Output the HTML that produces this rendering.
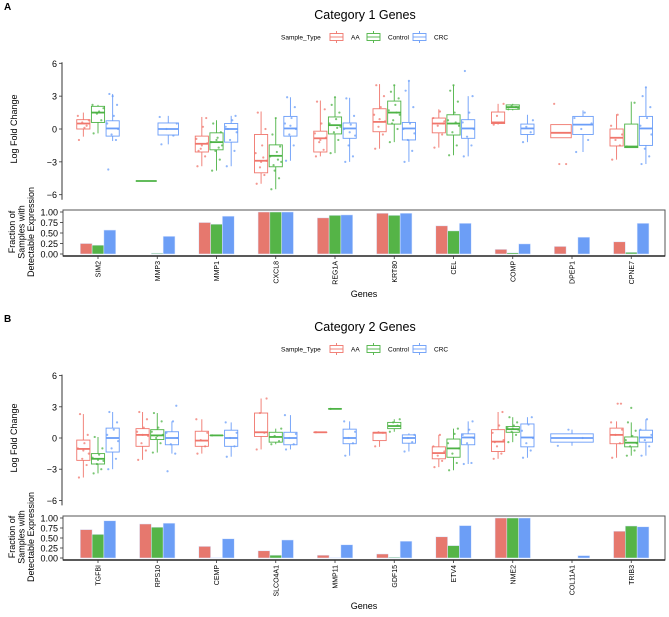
<!DOCTYPE html>
<html><head><meta charset="utf-8"><style>
body{margin:0;background:#fff;}
svg{display:block;font-family:"Liberation Sans",sans-serif;}
</style></head><body>
<svg id="chart" width="669" height="617" viewBox="0 0 669 617" xmlns="http://www.w3.org/2000/svg"></svg>
<script>
// ---------- data ----------
const genesA = ["SIM2","MMP3","MMP1","CXCL8","REG1A","KRT80","CEL","COMP","DPEP1","CPNE7"];
const genesB = ["TGFBI","RPS10","CEMP","SLCO4A1","MMP11","GDF15","ETV4","NME2","COL11A1","TRIB3"];
const groups = ["AA","Control","CRC"];
// box stats: [lowerWhisker, q1, median, q3, upperWhisker]
const boxA_AA = [[-0.7,0,0.5,0.85,1.5],null,[-3.4,-2.1,-1.35,-0.65,1.1],[-5.0,-4.0,-2.9,-0.5,1.6],[-2.5,-2.1,-0.85,-0.2,2.6],[-1.8,-0.25,0.65,1.85,4.1],[-1.7,-0.35,0.5,1.0,1.8],[0.4,0.5,0.6,1.55,2.3],[-0.8,-0.8,-0.35,0.4,0.4],[-2.8,-1.55,-0.8,0,1.35]];
const boxA_Control = [[-0.4,0.6,1.5,2.07,2.2],[-4.75,-4.75,-4.75,-4.75,-4.75],[-3.8,-1.9,-1.2,-0.35,0.8],[-5.5,-3.45,-2.45,-1.45,1.0],[-2.2,-0.45,0.35,1.1,2.9],[-1.2,0.45,1.5,2.55,4.0],[-2.4,-0.55,0.5,1.3,4.0],[1.7,1.8,2.0,2.2,2.3],null,[-1.7,-1.7,-1.6,0.45,2.5]];
const boxA_CRC = [[-1.1,-0.65,0.05,0.75,3.2],[-1.4,-0.55,0,0.55,1.2],[-3.4,-1.2,0,0.5,1.2],[-2.9,-0.65,0.05,1.15,2.9],[-3.0,-0.85,0.05,0.55,2.85],[-3.0,-1.0,0.05,0.6,4.4],[-2.5,-0.85,0.05,0.85,3.0],[-1.2,-0.5,0.05,0.45,1.3],[-2.1,-0.5,0.4,1.15,1.7],[-3.2,-1.5,0.05,1.15,3.8]];
const boxB_AA = [[-3.8,-2.15,-1.05,-0.2,2.3],[-2.1,-0.8,0.3,0.9,2.5],[-1.5,-0.8,-0.25,0.65,1.8],[-1.1,0.15,0.55,2.4,3.8],[0.55,0.55,0.55,0.55,0.55],[-0.85,-0.25,0.5,0.55,0.55],[-2.8,-2.0,-1.45,-0.85,0.3],[-2.0,-1.3,-0.35,0.8,2.5],null,[-1.9,-0.55,0.3,0.95,1.6]];
const boxB_Control = [[-3.4,-2.5,-2.0,-1.5,0.1],[-1.4,-0.15,0.25,0.8,2.4],[0.25,0.25,0.25,0.25,0.25],[-0.6,-0.4,0.1,0.55,0.9],[2.8,2.8,2.8,2.8,2.8],[0.6,0.9,1.15,1.5,1.8],[-3.1,-1.85,-1.0,-0.1,0.9],[-0.4,0.55,0.85,1.1,2.0],null,[-1.7,-0.85,-0.45,0.1,1.5]];
const boxB_CRC = [[-3.0,-1.35,0,0.95,2.5],[-1.5,-0.65,0,0.6,1.6],[-1.8,-0.8,0,0.75,1.5],[-1.1,-0.65,0,0.55,2.2],[-1.7,-0.55,0,0.85,1.6],[-1.3,-0.5,0,0.3,0.45],[-2.5,-0.65,0.05,0.4,1.6],[-1.9,-0.85,0.05,1.35,2.0],[-0.75,-0.4,0,0.4,0.8],[-1.7,-0.4,0.05,0.75,1.8]];
// jittered sample points
const ptsA_AA = [[-1,0.3,0.6,0.8,1.2,0.1],[],[-3.4,-2.5,-1.8,-1.3,-0.9,0.2,1.0,-2.0,-1.5],[-5,-4.2,-3.5,-2.9,-2.2,-1.5,0,1.5,-3.0,-2.6],[-2.5,-1.9,-1.2,-0.8,-0.4,0.5,1.8,2.5,-1.0],[-1.8,-0.5,0.2,0.7,1.3,2.0,3.0,4.0,0.9],[-1.7,-0.5,0.3,0.7,1.0,1.6,0.5],[0.4,0.6,1.2,2.3],[2.3,-3.2,-3.2],[-2.8,-1.5,-1,-0.5,0.3,1.3]];
const ptsA_Control = [[-0.4,0.8,1.4,1.9,2.2,1.6],[],[-3.8,-2.8,-2,-1.5,-1.2,-0.8,-0.3,0.5,-1.0,-1.7],[-5.5,-4.5,-3.8,-3,-2.5,-2.1,-1.6,-0.5,1,-2.8,-3.3],[-2.2,-1,-0.3,0.2,0.5,0.9,1.5,2.2,2.9,0.1],[-1.2,0,0.8,1.3,1.7,2.2,2.8,3.4,4,1.5,0.5],[-2.4,-1.5,-0.3,0.3,0.8,1.5,2.5,3.5,4,0.6],[1.8,2,2.1,1.9],[],[-1.6,2.4]];
const ptsA_CRC = [[-3.7,-1,-0.5,0,0.5,1.2,2.2,3.2,3],[-1.4,-0.6,0,0.5,1.1],[-3.4,-2,-1,-0.3,0.2,0.8,1.2,0],[-2.9,-1.5,-0.5,0,0.5,1,2,2.9,0.3],[-3,-2.5,-1.5,-0.6,0,0.4,1.2,2.8,-0.3],[-3,-2,-1,-0.4,0,0.5,2,3.5,4.4],[-2.5,-1.5,-0.7,0,0.6,1.5,3,5.3],[-1.2,-0.3,0.2,0.8],[-2.1,-1,0,0.5,1,1.5],[-3.2,-2.5,-1.8,-0.5,0.3,1,2,3,3.8]];
const ptsB_AA = [[-3.8,-2.6,-2,-1.5,-1,-0.5,0.3,2.3,-1.2],[-2.1,-1.2,-0.5,0.2,0.6,1,1.8,2.5,0.3],[-1.5,-0.8,-0.2,0.5,1.8],[-1.1,0.5,2.4,3.8],[0.55],[-0.8,0.5,0.55],[-2.8,-2.2,-1.7,-1.3,-0.8,0.3],[-2,-1.5,-0.8,-0.2,0.5,1.2,2.5,-0.4],[],[-1.9,-0.5,0.3,0.8,1.5,3.3,3.3]];
const ptsB_Control = [[-3.4,-3,-2.5,-2.2,-1.9,-1.6,-1,0.1,-2.1],[-1.4,-0.5,0,0.3,0.6,1,1.6,2.4,0.2],[0.25],[-0.6,-0.3,0.2,0.9],[2.8],[0.6,1.2,1.5,1.8],[-3.1,-2.4,-1.5,-1,-0.5,0.4,0.9],[-0.4,0.3,0.6,0.8,1,1.2,1.5,2,0.9],[],[-1.7,-1.2,-0.8,-0.5,-0.2,0.2,0.7,1.5,2.9]];
const ptsB_CRC = [[-3,-2,-1,-0.3,0.3,0.8,1.5,2.5],[-3.2,-1.5,-0.6,0,0.5,1.6,3.1],[-1.8,-0.8,0,0.5,1.5],[-1.1,-0.6,0,0.4,2.2],[-1.7,-0.5,0,0.6,1.6],[-1.3,-0.4,0,0.3],[-2.5,-2.4,-0.5,0,0.3,0.8,1.6],[-1.9,-1.2,-0.5,0,0.7,1.3,2],[-0.75,0,0.8],[-1.7,-0.8,-0.2,0.3,0.8,1.8]];
// fraction of samples with detectable expression
const fracA_AA = [0.25,0,0.75,1,0.86,0.97,0.67,0.11,0.18,0.29];
const fracA_Control = [0.21,0.02,0.71,1,0.92,0.92,0.55,0.03,0,0.04];
const fracA_CRC = [0.57,0.42,0.90,1,0.93,0.97,0.73,0.24,0.40,0.73];
const fracB_AA = [0.71,0.85,0.29,0.18,0.07,0.10,0.53,1,0,0.67];
const fracB_Control = [0.59,0.77,0.01,0.07,0.01,0.02,0.31,1,0,0.80];
const fracB_CRC = [0.93,0.87,0.48,0.45,0.33,0.42,0.81,1,0.06,0.78];
const yTicks = [6,3,0,-3,-6];
const yTickLabels = ["6","3","0","\u22123","\u22126"];
const fracTicks = [1,0.75,0.5,0.25,0];
const fracTickLabels = ["1.00","0.75","0.50","0.25","0.00"];

// ---------- drawing ----------
const colors = ["#F0766C","#4DB345","#6A9DF8"];
const barColors = ["#E6786E","#55B447","#6C9EF6"];
const NS = "http://www.w3.org/2000/svg";
const svg = document.getElementById("chart");
function mk(tag, attrs, parent){const e=document.createElementNS(NS,tag);for(const k in attrs)e.setAttribute(k,attrs[k]);(parent||svg).appendChild(e);return e;}
function txt(s, attrs, parent){const e=mk("text",attrs,parent);e.textContent=s;return e;}
const jit = [-4,3,-1,5,-5,1,4,-3,0,2,-2,5,-4];

function panel(cfg){
  const g = mk("g",{});
  
  
  const xGene = i => 98 + i*59.25;
  const yVal = v => cfg.zeroY - cfg.unit*v;
  const yBar = f => cfg.barZero - cfg.barUnit*f;
  // panel letter and title
  const L = txt(cfg.letter,{x:4,y:cfg.top+10,"font-size":10,"font-weight":"bold"},g);
  
  
  const T = txt(cfg.title,{x:365,y:cfg.top+19,"font-size":12.5,"text-anchor":"middle"},g);
  
  
  // legend
  const lg = mk("g",{},g);
  
  
  const ly = cfg.top+37;
  txt("Sample_Type",{x:281,y:ly+2.5,"font-size":6.5},lg);
  const lx=[330,367,413], lt=["AA","Control","CRC"];
  for(let k=0;k<3;k++){
    const e = mk("g",{},lg);
    
    
    mk("rect",{x:lx[k],y:ly-3.5,width:13,height:7,fill:"none",stroke:colors[k],"stroke-width":0.9},e);
    mk("line",{x1:lx[k],x2:lx[k]+13,y1:ly,y2:ly,stroke:colors[k],"stroke-width":0.9},e);
    mk("line",{x1:lx[k]+6.5,x2:lx[k]+6.5,y1:ly-6,y2:ly-3.5,stroke:colors[k],"stroke-width":0.9},e);
    mk("line",{x1:lx[k]+6.5,x2:lx[k]+6.5,y1:ly+3.5,y2:ly+6,stroke:colors[k],"stroke-width":0.9},e);
    txt(lt[k],{x:lx[k]+21,y:ly+2.5,"font-size":6.5},e);
  }
  // y axis (top)
  const ax = mk("g",{},g);
  
  
  mk("line",{x1:62,x2:62,y1:yVal(6)-1,y2:yVal(-6)+5,stroke:"#333","stroke-width":1},ax);
  yTicks.forEach((t,i)=>{
    mk("line",{x1:59,x2:62,y1:yVal(t),y2:yVal(t),stroke:"#333","stroke-width":0.8},ax);
    txt(yTickLabels[i],{x:57,y:yVal(t)+3.5,"font-size":9,"text-anchor":"end"},ax);
  });
  const yl = txt("Log Fold Change",{x:0,y:0,"font-size":9,"text-anchor":"middle",transform:`translate(17,${yVal(0)}) rotate(-90)`},g);
  
  
  // boxplots
  const boxSets=[cfg.box[0],cfg.box[1],cfg.box[2]];
  const ptSets=[cfg.pts[0],cfg.pts[1],cfg.pts[2]];
  const dodge = 44;
  cfg.genes.forEach((gn,i)=>{
    const present=[0,1,2].filter(k=>boxSets[k][i]);
    const n=present.length, slot=dodge/n;
    present.forEach((k,j)=>{
      const s=boxSets[k][i];
      const cx = xGene(i) - dodge/2 + slot*(j+0.5);
      const w = slot-1.5;
      const bg = mk("g",{},g);
      
      
      const c=colors[k];
      mk("line",{x1:cx,x2:cx,y1:yVal(s[4]),y2:yVal(s[3]),stroke:c,"stroke-width":0.9},bg);
      mk("line",{x1:cx,x2:cx,y1:yVal(s[1]),y2:yVal(s[0]),stroke:c,"stroke-width":0.9},bg);
      mk("rect",{x:cx-w/2,y:yVal(s[3]),width:w,height:Math.max(0.01,yVal(s[1])-yVal(s[3])),fill:"#fff","fill-opacity":0.3,stroke:c,"stroke-width":0.9},bg);
      mk("line",{x1:cx-w/2,x2:cx+w/2,y1:yVal(s[2]),y2:yVal(s[2]),stroke:c,"stroke-width":1.8},bg);
      (ptSets[k][i]||[]).forEach((v,q)=>{
        const p=mk("circle",{cx:cx+jit[q%jit.length]*w/12,cy:yVal(v),r:1.1,fill:c,"fill-opacity":0.75},bg);
      });
    });
  });
  // bar panel
  const bp = mk("g",{},g);
  
  
  mk("rect",{x:63,y:cfg.barTop,width:602,height:cfg.barZero+2-cfg.barTop,fill:"none",stroke:"#555","stroke-width":1},bp);
  mk("line",{x1:63,x2:665,y1:cfg.barZero+2,y2:cfg.barZero+2,stroke:"#222","stroke-width":1.5},bp);
  fracTicks.forEach((t,i)=>{
    mk("line",{x1:60,x2:63,y1:yBar(t),y2:yBar(t),stroke:"#333","stroke-width":0.8},bp);
    txt(fracTickLabels[i],{x:58,y:yBar(t)+3.3,"font-size":9,"text-anchor":"end"},bp);
  });
  const fl = txt("",{x:0,y:0,"font-size":9,"text-anchor":"middle",transform:`translate(24,${(cfg.barTop+cfg.barZero)/2}) rotate(-90)`},g);
  
  
  ["Fraction of","Samples with","Detectable Expression"].forEach((s,q)=>{const t=mk("tspan",{x:0,dy:q===0?-9:9.5},fl);t.textContent=s;});
  const fr=[cfg.frac[0],cfg.frac[1],cfg.frac[2]];
  const bw=11.8;
  cfg.genes.forEach((gn,i)=>{
    for(let k=0;k<3;k++){
      const f=fr[k][i]; if(f<=0) continue;
      const x=xGene(i)-1.5*bw+k*bw;
      const r=mk("rect",{x:x,y:yBar(f),width:bw,height:cfg.barZero-yBar(f),fill:barColors[k],stroke:"#dde8ff","stroke-width":0.5},bp);
      
      
    }
    mk("line",{x1:xGene(i),x2:xGene(i),y1:cfg.barZero+2,y2:cfg.barZero+5,stroke:"#333","stroke-width":0.8},bp);
    const xl=txt(gn,{x:0,y:0,"font-size":7,"text-anchor":"end",transform:`translate(${xGene(i)+2.5},${cfg.barZero+7}) rotate(-90)`},g);
    
    
  });
  const gx=txt("Genes",{x:364,y:cfg.genesY,"font-size":9,"text-anchor":"middle"},g);
  
  
}
panel({name:"panel-a-category-1",letter:"A",title:"Category 1 Genes",top:0,zeroY:129,unit:10.95,barTop:210,barZero:254,barUnit:42,genesY:297,genes:genesA,
  box:[boxA_AA,boxA_Control,boxA_CRC],pts:[ptsA_AA,ptsA_Control,ptsA_CRC],frac:[fracA_AA,fracA_Control,fracA_CRC]});
panel({name:"panel-b-category-2",letter:"B",title:"Category 2 Genes",top:312,zeroY:438,unit:10.4,barTop:516,barZero:558,barUnit:40,genesY:609,genes:genesB,
  box:[boxB_AA,boxB_Control,boxB_CRC],pts:[ptsB_AA,ptsB_Control,ptsB_CRC],frac:[fracB_AA,fracB_Control,fracB_CRC]});
</script>
</body></html>
